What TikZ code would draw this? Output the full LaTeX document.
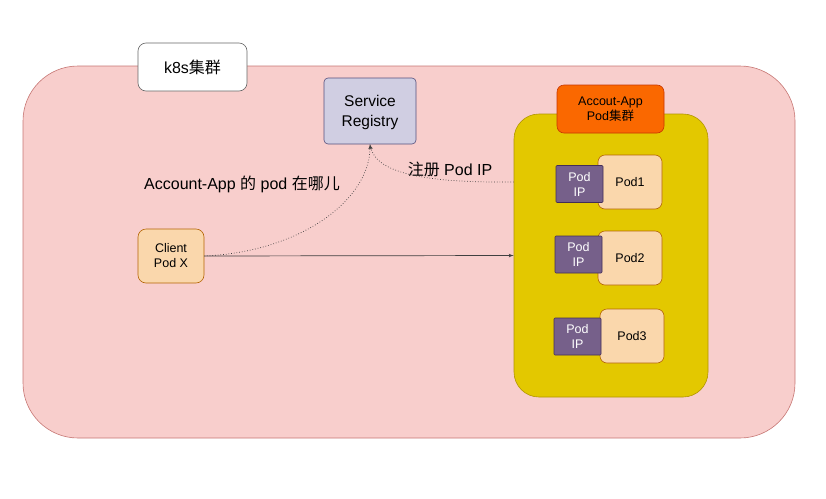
\documentclass[tikz,border=0pt]{standalone}
\usepackage{fontspec}
\setmainfont{Liberation Sans}
\newfontfamily\cjk{Noto Sans CJK SC}
\usepackage{xcolor}
\usepackage{tikz}
\usetikzlibrary{shapes, arrows}
\definecolor{clusterfill}{HTML}{F8CECC}
\definecolor{clusterline}{HTML}{B85450}
\definecolor{regfill}{HTML}{D0CEE2}
\definecolor{regline}{HTML}{56517E}
\definecolor{orangefill}{HTML}{FA6800}
\definecolor{orangeline}{HTML}{C73500}
\definecolor{groupfill}{HTML}{E3C800}
\definecolor{groupline}{HTML}{B09500}
\definecolor{podfill}{HTML}{FAD7AC}
\definecolor{podline}{HTML}{B46504}
\definecolor{ipfill}{HTML}{76608A}
\definecolor{ipline}{HTML}{432D57}
\tikzstyle{box} = [draw, rectangle, align=center, line width=0.6pt, inner sep=0pt]
\tikzstyle{pod} = [box, fill=podfill, draw=podline, rounded corners=7pt, minimum width=64pt, minimum height=54pt, font=\fontsize{12.5}{15}\selectfont]
\tikzstyle{podip} = [box, fill=ipfill, draw=ipline, rounded corners=1pt, minimum width=47pt, minimum height=37pt, text=white, font=\fontsize{12.5}{15}\selectfont]
\tikzstyle{label} = [font=\fontsize{16}{19}\selectfont]

\begin{document}
\begin{tikzpicture}[x=1pt, y=-1pt, >=latex']
    \useasboundingbox (0,0) rectangle (826,498);
    \tikzstyle{line} = [draw=black!75, line width=0.7pt]

    % 集群背景
    \node [box, fill=clusterfill, draw=clusterline!80, rounded corners=55pt, minimum width=772pt, minimum height=372pt] (cluster) at (409,252) {};
    \node [box, fill=white, draw=black!60, rounded corners=8pt, minimum width=109pt, minimum height=48pt, label] (k8s) at (192.5,67) {k8s{\cjk 集群}};
    \node [box, fill=regfill, draw=regline, rounded corners=4pt, minimum width=92pt, minimum height=66pt, font=\fontsize{15.5}{19}\selectfont, text depth=0pt] (registry) at (370,111) {Service\\[1pt]Registry};

    % Pod 集群
    \node [box, fill=groupfill, draw=groupline, rounded corners=25pt, minimum width=194pt, minimum height=283pt] (podgroup) at (611,255.5) {};
    \node [box, fill=orangefill, draw=orangeline, rounded corners=7pt, minimum width=107pt, minimum height=48pt, font=\fontsize{12.5}{15}\selectfont] (appgroup) at (610.5,109) {Accout-App\\Pod{\cjk 集群}};
    \node [pod] (pod1) at (630,182) {Pod1};
    \node [podip] (ip1) at (579.5,184) {Pod\\IP};
    \node [pod] (pod2) at (630,258) {Pod2};
    \node [podip] (ip2) at (578.5,254.5) {Pod\\IP};
    \node [pod] (pod3) at (632,336) {Pod3};
    \node [podip] (ip3) at (577.5,336.5) {Pod\\IP};

    % 客户端
    \node [pod, minimum width=66pt, rounded corners=8pt] (client) at (171,256) {Client\\Pod X};
    \node [label] (ask) at (242,184) {Account-App {\cjk 的} pod {\cjk 在哪儿}};
    \node [label] (reg) at (450,169) {{\cjk 注册} Pod IP};

    \draw [line, ->] (client.east) -- (podgroup.west);
    \draw [line, dotted, ->] (client.east) .. controls (300,252) and (370,200) .. (registry.south);
    \draw [line, dotted, ->] (podgroup.west |- pod1) .. controls (420,183) and (376,172) .. (registry.south);
\end{tikzpicture}
\end{document}
